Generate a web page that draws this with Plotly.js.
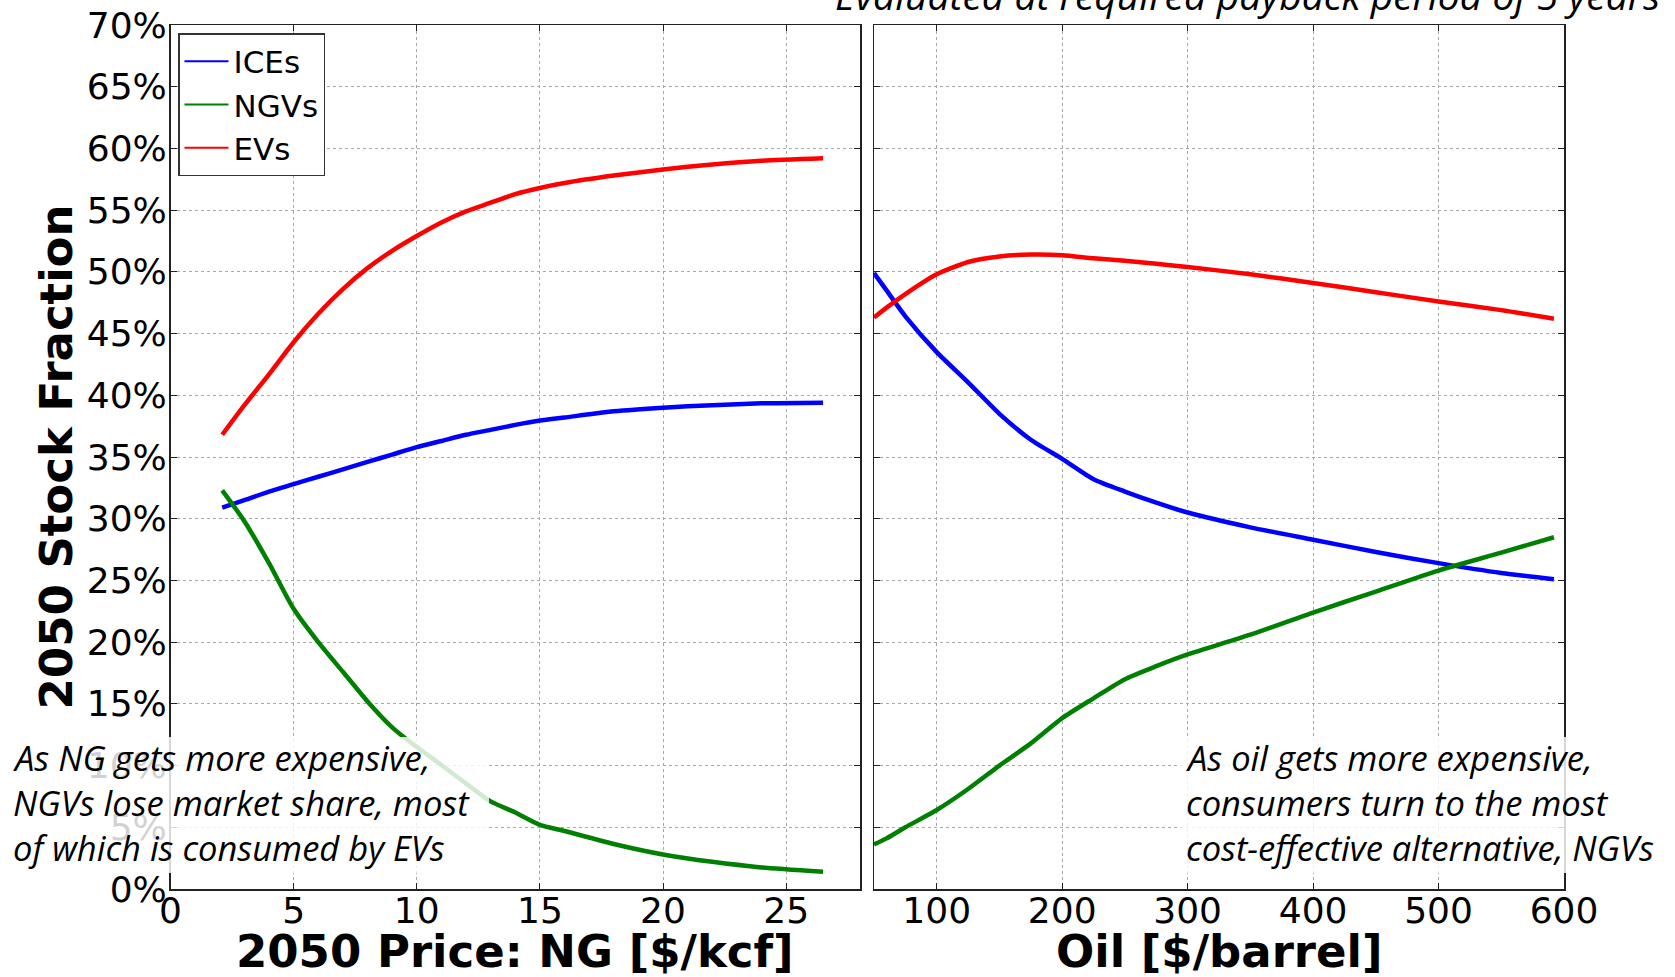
<!DOCTYPE html>
<html>
<head>
<meta charset="utf-8">
<script src="https://cdn.plot.ly/plotly-3.0.1.min.js"></script>
<style>html,body{margin:0;padding:0;background:#fff;}#chart{width:1675px;height:977px;}</style>
</head>
<body>
<div id="chart"></div>
<script>
// ---- data (stock fraction in %) ----
const ngPrice = [2.1, 3, 4, 5, 6, 7, 8, 9, 10, 11, 12, 13, 14, 15, 16, 18, 20, 22, 24, 26.5];
const icesNG  = [30.9, 31.5, 32.2, 32.8, 33.4, 34.0, 34.6, 35.2, 35.8, 36.3, 36.8, 37.2, 37.6, 37.95, 38.2, 38.7, 39.0, 39.2, 39.35, 39.4];
const ngvsNG  = [32.3, 29.8, 26.4, 22.7, 20.0, 17.6, 15.2, 13.1, 11.5, 10.05, 8.55, 7.1, 6.2, 5.2, 4.7, 3.65, 2.8, 2.2, 1.75, 1.4];
const evsNG   = [36.8, 39.2, 41.7, 44.3, 46.6, 48.6, 50.3, 51.7, 52.9, 54.0, 54.9, 55.6, 56.3, 56.8, 57.2, 57.8, 58.3, 58.7, 59.0, 59.2];

const oilPrice = [50, 60, 75, 100, 125, 150, 175, 200, 225, 250, 275, 300, 350, 400, 450, 500, 550, 592];
const icesOil  = [49.9, 48.5, 46.4, 43.5, 41.05, 38.5, 36.4, 34.85, 33.2, 32.2, 31.3, 30.5, 29.3, 28.3, 27.3, 26.4, 25.6, 25.1];
const ngvsOil  = [3.6, 4.1, 5.0, 6.4, 8.1, 10.0, 11.8, 13.85, 15.45, 17.0, 18.05, 19.0, 20.6, 22.4, 24.1, 25.8, 27.25, 28.5];
const evsOil   = [46.3, 47.1, 48.2, 49.8, 50.8, 51.25, 51.4, 51.35, 51.1, 50.9, 50.65, 50.4, 49.8, 49.1, 48.35, 47.6, 46.9, 46.2];

const seriesNames = ['ICEs', 'NGVs', 'EVs'];
const seriesColors = ['#0000ff', '#008000', '#ff0000'];
const ngTicks = [0, 5, 10, 15, 20, 25];
const oilTicks = [100, 200, 300, 400, 500, 600];
const yTicks = [0, 5, 10, 15, 20, 25, 30, 35, 40, 45, 50, 55, 60, 65, 70];

const titleText = 'Evaluated at required payback period of 5 years';
const xTitleNG = '2050 Price: NG [$/kcf]';
const xTitleOil = 'Oil [$/barrel]';
const yTitle = '2050 Stock Fraction';
const noteLeft = ['As NG gets more expensive,', 'NGVs lose market share, most', 'of which is consumed by EVs'];
const noteRight = ['As oil gets more expensive,', 'consumers turn to the most', 'cost-effective alternative, NGVs'];

// ---- layout helpers ----
const W = 1675, H = 977;
const px = v => v / W;
const py = v => 1 - v / H;

const ngSeries = [icesNG, ngvsNG, evsNG];
const oilSeries = [icesOil, ngvsOil, evsOil];
const traces = [];
for (let i = 0; i < 3; i++) {
  traces.push({x: ngPrice, y: ngSeries[i], xaxis: 'x', yaxis: 'y', mode: 'lines',
    line: {color: seriesColors[i], width: 4.5, shape: 'spline', smoothing: 0.6}, showlegend: false, hoverinfo: 'skip'});
}
for (let i = 0; i < 3; i++) {
  traces.push({x: oilPrice, y: oilSeries[i], xaxis: 'x2', yaxis: 'y2', mode: 'lines',
    line: {color: seriesColors[i], width: 4.5, shape: 'spline', smoothing: 0.6}, showlegend: false, hoverinfo: 'skip'});
}
for (let i = 0; i < 3; i++) {
  traces.push({x: [null], y: [null], xaxis: 'x', yaxis: 'y', mode: 'lines', name: seriesNames[i],
    line: {color: seriesColors[i], width: 2}, showlegend: true});
}

const tickFont = {family: 'DejaVu Sans', size: 36, color: '#000'};
const titleFont = {family: 'DejaVu Sans', size: 45, color: '#000', weight: 'bold'};
const axisCommon = {
  showline: true, linecolor: '#222', linewidth: 1.5, mirror: 'ticks',
  ticks: 'inside', ticklen: 6, tickwidth: 1, tickcolor: '#222',
  showgrid: true, gridcolor: '#a8a8a8', gridwidth: 1, griddash: 'dot',
  zeroline: false, tickfont: tickFont, automargin: false, fixedrange: true
};

const layout = {
  width: W, height: H,
  margin: {l: 0, r: 0, t: 0, b: 0},
  paper_bgcolor: '#fff', plot_bgcolor: '#fff',
  title: {text: titleText, font: {family: 'Open Sans', size: 39, style: 'italic', color: '#000'},
    xref: 'container', yref: 'container', x: px(1660), xanchor: 'right', y: py(10), yanchor: 'bottom'},
  xaxis: Object.assign({}, axisCommon, {domain: [px(170.5), px(860)], range: [0, 28],
    tickvals: ngTicks, ticktext: ngTicks.map(String), anchor: 'y', ticklabelstandoff: -11}),
  yaxis: Object.assign({}, axisCommon, {domain: [py(889), py(25)], range: [0, 70],
    tickvals: yTicks, ticktext: yTicks.map(v => v + '%'), anchor: 'x', ticklabelstandoff: -5,
    title: {text: yTitle, font: titleFont, standoff: 0}}),
  xaxis2: Object.assign({}, axisCommon, {domain: [px(874), px(1564)], range: [50, 600],
    tickvals: oilTicks, ticktext: oilTicks.map(String), anchor: 'y2', ticklabelstandoff: -11}),
  yaxis2: Object.assign({}, axisCommon, {domain: [py(889), py(25)], range: [0, 70],
    tickvals: yTicks, showticklabels: false, anchor: 'x2'}),
  legend: {x: px(178), y: py(33), xanchor: 'left', yanchor: 'top',
    font: {family: 'DejaVu Sans', size: 31, color: '#000'},
    bgcolor: '#fff', bordercolor: '#333', borderwidth: 1.5, itemwidth: 44, tracegroupgap: 0},
  shapes: [
    {type: 'rect', xref: 'paper', yref: 'paper', x0: 0, x1: px(489), y0: py(873), y1: py(737),
      fillcolor: 'rgba(255,255,255,0.82)', line: {width: 0}, layer: 'above'},
    {type: 'rect', xref: 'paper', yref: 'paper', x0: px(1180), x1: px(1670), y0: py(873), y1: py(737),
      fillcolor: 'rgba(255,255,255,0.82)', line: {width: 0}, layer: 'above'}
  ],
  annotations: [
    {text: xTitleNG, xref: 'paper', yref: 'paper', x: px(515), y: py(951), xanchor: 'center', yanchor: 'middle',
      showarrow: false, font: titleFont, borderpad: 0},
    {text: xTitleOil, xref: 'paper', yref: 'paper', x: px(1219), y: py(951), xanchor: 'center', yanchor: 'middle',
      showarrow: false, font: titleFont, borderpad: 0}
  ]
};

const noteFont = {family: 'Open Sans', size: 34.5, style: 'italic', color: '#000'};
const baselines = [771, 816, 861];
for (let i = 0; i < 3; i++) {
  const yc = baselines[i] - 0.39 * noteFont.size;
  layout.annotations.push({text: noteLeft[i], xref: 'paper', yref: 'paper', x: px(12), y: py(yc),
    xanchor: 'left', yanchor: 'middle', showarrow: false, font: noteFont, borderpad: 0});
  layout.annotations.push({text: noteRight[i], xref: 'paper', yref: 'paper', x: px(1185), y: py(yc),
    xanchor: 'left', yanchor: 'middle', showarrow: false, font: noteFont, borderpad: 0});
}

Plotly.newPlot('chart', traces, layout, {displayModeBar: false, staticPlot: true});
</script>
</body>
</html>
